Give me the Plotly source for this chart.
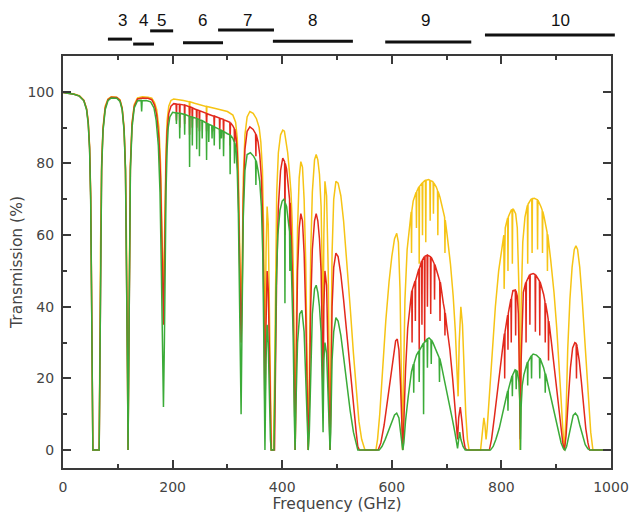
import plotly.graph_objects as go

# ---------------- data (frequency GHz, transmission %) ----------------
yellow_points = [
    (0,99.9),(10,99.7),(20,99.4),(30,98.9),(38,97.7),(43,95.4),(46,92),(48.5,85),(50.5,72),(52,47),(53.5,17),(54.5,0),
    (66,0),(67,26),(68.5,57),(70.5,80),(73,90),(77,96),(82,98),(88,98.6),(98,98.5),(104,97.8),(108,95.5),(111.5,90),
    (114,79),(116,57),(117.8,22),(118.7,0),(119.6,22),(121,57),(123,80),(126,91.5),(130,96.5),(136,98.3),(145,98.6),
    (155,98.5),(162,98.2),(167,97),(171,95),(175,90),(178,80),(180.5,62),(182,50),(183.3,42),(184.5,52),(186,70),
    (188,84),(190,92),(193,96),(197,97.6),(202,98),(220,97.6),(230.4,97.2),(231,94),(231.6,97.2),(240,96.8),(260,96),
    (261.4,95.9),(262,93),(262.6,95.9),(280,95.3),(300,94.5),(310,93.5),(315,91.5),(318,87),(320,78),(321.5,64),
    (323,50),(325,38),(327,52),(329,76),(332,88),(336,93),(341,94.5),(347,94),(353,92.5),(358,90),(361,86),(364,78),
    (366,62),(368.5,25),(370.5,55),(372.5,68),(374.5,63),(376.5,45),(378.5,18),(380,0),(384,0),(386,20),(388,50),
    (390,72),(393,83),(397,88),(401,89.3),(404,89),(407,86),(410,83),(413,78),(416,72),(418,65),(420,52),(422,25),
    (423.7,0),(425.5,30),(428,62),(431,76),(434,80.5),(437,79),(440,70),(443,52),(445.5,20),(447.5,0),(449.5,20),
    (452,55),(455,72),(459,81),(462,82.5),(465,81),(468,77),(471,68),(473,50),(474.6,30),(476,60),(478,75),(481,71),
    (484,50),(486,18),(487.3,0),(488.5,18),(491,55),(494,70),(498,75),(502,74.5),(507,71),(512,64),(518,53),(524,40),
    (530,27),(535,16),(540,8),(545,3),(549,0.5),(551,0),(571,0),(574,3),(578,10),(583,22),(589,36),(595,47),(600,54),
    (605,59),(609,60.5),(612,58),(615,45),(617.5,20),(619.5,0),(621.5,20),(624,42),(628,56),(633,64),(635.4,66.5),
    (636,55),(636.6,66.8),(639,69.5),(644.4,72),(645,62),(645.6,72.2),(649.4,73.5),(650,52),(650.6,73.6),(655.4,74.6),
    (656,60),(656.6,74.7),(660,75.2),(661.4,75.3),(662,58),(662.6,75.3),(667,75.5),(669.4,75.3),(670,64),(670.6,75.2),
    (674,75),(675.4,74.8),(676,66),(676.6,74.6),(681,73.5),(683.4,72.5),(684,60),(684.6,72.2),(688,70.5),(695,66),
    (696.4,65),(697,55),(697.6,64.2),(701,60),(707,52),(712,43),(716,33),(719,22),(721,15),(723,30),(726,40),(729,35),
    (732,22),(735,10),(738,3),(741,0),(762,0),(765,5),(768,9),(770,7),(772,3),(774,6),(778,15),(783,28),(789,40),
    (795,50),(801,57),(804.4,60),(805,45),(805.6,60.3),(807,62),(811.4,64.8),(812,50),(812.6,65.1),(818,67),
    (819.4,67.1),(820,52),(820.6,67.2),(822,67.2),(826,66),(829,62),(832,45),(834,0),(836,40),(839,58),(843,65),
    (847.4,68.3),(848,52),(848.6,68.6),(854,70),(855.4,70.1),(856,55),(856.6,70.2),(860,70.3),(865.4,69.9),(866,56),
    (866.6,69.8),(872,68),(874.4,67),(875,55),(875.6,66.6),(878,65),(883.4,60.8),(884,50),(884.6,60.2),(890,53),
    (896,44),(901,34),(905,25),(909,14),(912,6),(915,0),(918,10),(921,28),(925,42),(929,51),(933,56),(936,57),(939,56),
    (943,51),(947,43),(951,33),(955,22),(959,12),(963,5),(967,0),(1000,0),
]

red_points = [
    (0,99.8),(10,99.6),(20,99.3),(30,98.8),(38,97.6),(43,95.2),(46,91.5),(48.5,84.5),(50.5,71),(52,46),(53.5,16),(54.5,0),
    (66,0),(67,25),(68.5,56),(70.5,79),(73,89.5),(77,95.5),(82,97.8),(88,98.5),(98,98.4),(104,97.6),(108,95.3),
    (111.5,89.5),(114,78.5),(116,56),(117.8,21),(118.7,0),(119.6,21),(121,56),(123,79),(126,91),(130,96),(136,98),
    (145,98.3),(155,98.2),(162,97.8),(167,96.3),(171,93.5),(175,87),(178,76),(180.5,58),(182,44),(183.3,35),(184.5,45),
    (186,65),(188,80),(190,89),(193,94),(197,96),(202,96.7),(206.4,96.6),(207,92),(207.6,96.6),(212.4,96.5),(213,90),
    (213.6,96.5),(221.4,96.3),(222,91),(222.6,96.3),(230.4,95.8),(231,88),(231.6,95.8),(235.4,95.6),(236,90),
    (236.6,95.5),(243.4,95),(244,90),(244.6,95),(248.4,94.8),(249,89),(249.6,94.7),(261.4,94),(262,89),(262.6,93.9),
    (275.4,93.2),(276,89),(276.6,93.2),(285.4,92.7),(286,88),(286.6,92.6),(292.4,92.3),(293,87),(293.6,92.2),(300,91.8),
    (304.4,91.5),(305,85),(305.6,91.4),(310,90.5),(312.4,89.8),(313,86),(313.6,89.6),(316,87),(318,83),(320,72),
    (321.5,58),(323,44),(325,30),(327,45),(329,70),(332,84),(336,89),(341,90.2),(347,89.5),(351.4,88.3),(352,82),
    (352.6,88.1),(356,86),(359,82.5),(362,76),(364.5,64),(366.5,42),(368.5,8),(370.5,35),(372.5,50),(374.5,45),
    (376.5,28),(378.5,8),(380,0),(386,0),(388,25),(390,50),(393,68),(397,78),(401,81.5),(403,81),(404.4,80.5),(405,60),
    (405.6,80),(408,78.5),(411,74),(413.4,70),(414,58),(414.6,69),(416,63),(418,55),(420,42),(422,18),(423.7,0),
    (425.5,22),(428,50),(431,62),(434,66),(437,64),(440,55),(443,38),(445.5,12),(447.5,0),(449.5,12),(452,40),(455,56),
    (459,64),(462,66),(465,64),(468,59),(471,50),(473,32),(474.6,12),(476,40),(478,50),(481,46),(484,28),(486,8),
    (487.3,0),(488.5,10),(491,40),(494,51),(498,55),(502,54),(507,49),(512,42),(518,32),(524,22),(530,12),(535,5),
    (538,1),(541,0),(575,0),(580,2),(586,7),(592,14),(598,21),(603,27),(607,30.5),(610,31),(613,28),(616,18),(618,7),
    (620,0),(622,8),(625,22),(629,34),(634,42),(636.4,44.5),(637,30),(637.6,44.8),(642.4,47.2),(643,36),(643.6,47.4),
    (649.4,50.6),(650,28),(650.6,50.8),(654.4,52.8),(655,35),(655.6,53),(659.4,54),(660,30),(660.6,54.1),(664.4,54.4),
    (665,40),(665.6,54.4),(670.4,54),(671,38),(671.6,53.9),(673,53.5),(677.4,52),(678,42),(678.6,51.8),(684,49),
    (687.4,47.2),(688,36),(688.6,46.9),(694,41),(696.4,39),(697,32),(697.6,38.3),(700,35),(706,28),(711,20),(715,13),
    (718,7),(720,3),(722,9),(725,12),(728,8),(731,3),(734,0.5),(737,0),(778,0),(782,3),(787,9),(793,17),(799,25),
    (805.4,32.5),(806,20),(806.6,33),(811.4,37.7),(812,28),(812.6,38.2),(817.4,42.2),(818,30),(818.6,42.6),(821,44.5),
    (825,44.8),(825.4,44.7),(826,32),(826.6,44.5),(829,43),(831,38),(833,20),(834.5,3),(836,25),(838,38),(840,44),
    (844.4,46.8),(845,30),(845.6,47),(851.4,48.9),(852,35),(852.6,49),(858,49.3),(861.4,49),(862,33),(862.6,48.9),
    (869.4,47.2),(870,32),(870.6,47),(877,43.5),(879.4,41.5),(880,30),(880.6,41),(884,38),(885.4,36.5),(886,25),
    (886.6,36),(891,30.5),(897,22),(903,14),(908,7),(912,2),(915,0),(918,4),(922,14),(926,23),(930,28.5),(934,30),
    (936.4,29.8),(937,20),(937.6,29.5),(938,29),(942,25),(946,19),(950,12),(954,6),(958,2),(961,0),(1000,0),
]

green_points = [
    (0,99.8),(10,99.6),(20,99.3),(30,98.8),(38,97.5),(43,95),(46,91),(48.5,84),(50.5,70),(52,45),(53.5,15),(54.5,0),
    (66,0),(67,25),(68.5,55),(70.5,78),(73,89),(77,95),(82,97.5),(88,98.3),(98,98.2),(104,97.3),(108,95),(111.5,89),
    (114,78),(116,55),(117.8,20),(118.7,0),(119.6,20),(121,55),(123,78),(126,90),(130,95.5),(136,97.5),(142.6,97.6),
    (143.5,94.5),(144.4,97.5),(152,97.6),(160,97.2),(166,95.5),(170,92),(174,85),(177,72),(179.5,50),(181.5,28),
    (183.3,12),(185,30),(186.5,55),(188,72),(190,84),(192,90),(195,93),(200,94.3),(206.4,94.1),(207,91),(207.6,94.1),
    (212.4,94),(213,87),(213.6,94),(221.4,93.7),(222,88),(222.6,93.7),(230.4,93.2),(231,79),(231.6,93.1),(235.4,93),
    (236,85),(236.6,92.9),(243.4,92.6),(244,84),(244.6,92.5),(248.4,92.3),(249,82),(249.6,92.2),(253.4,92),(254,87),
    (254.6,91.9),(261.4,91.3),(262,81),(262.6,91.2),(265.4,91),(266,86),(266.6,90.9),(271.4,90.6),(272,87),(272.6,90.5),
    (275.4,90.3),(276,85),(276.6,90.2),(285.4,89.5),(286,84),(286.6,89.4),(288.4,89.3),(289,87),(289.6,89.2),
    (292.4,89),(293,82),(293.6,88.9),(300,88.3),(304.4,88),(305,77),(305.6,87.9),(310,87),(312.4,86),(313,80),
    (313.6,85.8),(316,83.5),(318,78),(320,66),(321.5,50),(323,30),(325,10),(327,40),(329,65),(332,78),(336,82.5),
    (342,83),(348,82),(351.4,81),(352,74),(352.6,80.8),(356,78),(359,75),(362,68),(364.5,55),(366.5,30),(368.5,0),
    (370.5,25),(372.5,35),(374.5,30),(376.5,15),(378.5,3),(380,0),(385,0),(387,20),(389,45),(392,60),(396,67),
    (400,69.5),(403,70),(404.4,69.5),(405,41),(405.6,69),(408,68),(411,64.5),(413.4,61),(414,50),(414.6,60),(416,55),
    (418,46),(420,32),(422,10),(423.5,0),(425,12),(428,30),(432,38),(436,39),(440,33),(443,20),(445.5,5),(447.5,0),
    (449.5,5),(452,25),(455,38),(459,45),(462,46),(465,44),(468,40),(471,33),(473,20),(474.6,5),(476,25),(478,30),
    (481,27),(484,15),(486,3),(487.3,0),(488.5,5),(491,25),(494,33),(498,37),(502,36),(507,32),(512,26),(518,18),
    (524,11),(530,5),(535,1.5),(538,0),(577,0),(582,1),(588,3),(594,5.5),(600,8),(605,9.8),(609,10.3),(613,9),(616,5),
    (618,2),(620,0),(622,2),(625,8),(630,15),(636,22),(639.4,24),(640,16),(640.6,24.2),(645,26.5),(649.4,27.7),(650,19),
    (650.6,27.8),(657.4,29.8),(658,10),(658.6,29.9),(664.4,31),(665,23),(665.6,31.1),(668,31.3),(671.4,30.8),(672,24),
    (672.6,30.7),(675,30),(682,27.5),(686.4,25.8),(687,19),(687.6,25.6),(690,24),(697,19),(704,14),(710,9),(715,5),
    (718,2),(720,0.5),(722,3),(724,5),(726,3),(730,1),(734,0),(780,0),(785,1),(790,3),(796,6),(802,10),(808,14),
    (811.4,16.5),(812,11),(812.6,16.8),(819.4,20.8),(820,15),(820.6,21),(825,22.4),(826.4,22.3),(827,17),(827.6,22.2),
    (829,22),(832,19),(834,12),(835,0),(836,12),(838,18),(841,21),(846,24),(847.4,24.5),(848,18),(848.6,24.6),
    (854.4,26.3),(855,20),(855.6,26.4),(858,26.8),(864,26.5),(869.4,25.7),(870,20),(870.6,25.6),(877,23),(879.4,21.5),
    (880,16),(880.6,21.3),(884,19),(891,14),(898,9),(904,5),(909,2),(913,0.5),(916,0),(919,1),(923,4),(927,7.5),
    (931,9.7),(935,10.3),(939,9.5),(943,7),(948,4),(953,1.5),(958,0.3),(962,0),(1000,0),
]

# ALMA receiver bands: label and frequency span (GHz) of each bar
band_labels = ["3", "4", "5", "6", "7", "8", "9", "10"]
band_start = [82, 128, 159, 219, 283, 383, 588, 770]
band_end = [126, 166, 201, 292, 385, 529, 745, 1007]
band_label_freq = [108, 146, 179, 255, 337, 456, 661, 907]

x_ticks = [0, 200, 400, 600, 800, 1000]
y_ticks = [0, 20, 40, 60, 80, 100]

# ---------------- styling / positions ----------------
bar_y = [1.041, 1.029, 1.061, 1.032, 1.063, 1.036, 1.034, 1.051]  # paper coords
label_y = 1.085
colors = {"yellow": "#f6c415", "red": "#e2291c", "green": "#3bab38"}
LABEL_FONT = "Liberation Sans, Arial, sans-serif"
AXIS_FONT = "DejaVu Sans, sans-serif"
X_MAX = 1000.0

fig = go.Figure()
for name, pts in (("yellow", yellow_points), ("red", red_points), ("green", green_points)):
    fig.add_trace(go.Scatter(
        x=[p[0] for p in pts], y=[p[1] for p in pts], mode="lines",
        line=dict(color=colors[name], width=1.5), showlegend=False, hoverinfo="skip",
    ))

shapes = []
annotations = []
for lab, s, e, yb, lf in zip(band_labels, band_start, band_end, bar_y, band_label_freq):
    shapes.append(dict(type="line", xref="paper", yref="paper", x0=s / X_MAX, x1=e / X_MAX,
                       y0=yb, y1=yb, line=dict(color="#111", width=3)))
    annotations.append(dict(xref="paper", yref="paper", x=lf / X_MAX, y=label_y, text=lab,
                            showarrow=False, font=dict(family=LABEL_FONT, size=17, color="#111"),
                            xanchor="center", yanchor="middle"))

axis_common = dict(
    showline=True, linecolor="#3a3a3a", linewidth=2, mirror="allticks",
    ticks="inside", ticklen=8, tickwidth=1.5, tickcolor="#3a3a3a",
    showgrid=False, zeroline=False, automargin=False,
    tickfont=dict(family=AXIS_FONT, size=14, color="#444"),
)

fig.update_layout(
    width=633, height=513,
    margin=dict(l=63, r=22, t=56, b=45),
    paper_bgcolor="white", plot_bgcolor="white",
    shapes=shapes, annotations=annotations,
    xaxis=dict(range=[0, 1000], tickvals=x_ticks, ticktext=[str(v) for v in x_ticks],
               minor=dict(ticks="inside", dtick=100, ticklen=4, tickcolor="#3a3a3a", tickwidth=1.5),
               ticklabelstandoff=5,
               title=dict(text="Frequency (GHz)", font=dict(family=AXIS_FONT, size=15.5, color="#444"), standoff=4),
               **axis_common),
    yaxis=dict(range=[-5, 110], tickvals=y_ticks, ticktext=[str(v) for v in y_ticks],
               minor=dict(ticks="inside", dtick=10, ticklen=4, tickcolor="#3a3a3a", tickwidth=1.5),
               ticklabelstandoff=4,
               title=dict(text="Transmission (%)", font=dict(family=AXIS_FONT, size=15.5, color="#444"), standoff=1),
               **axis_common),
)

fig.write_html("out.html")
